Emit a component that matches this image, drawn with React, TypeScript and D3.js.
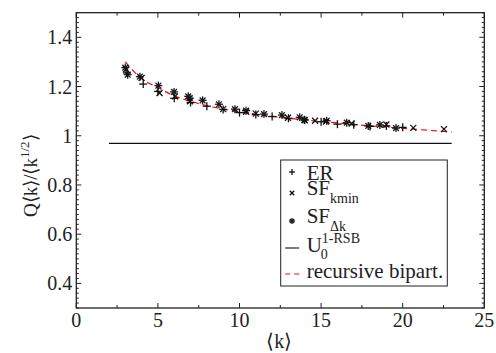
import * as d3 from "d3";

// ER (+)
const erData: [number, number][] = [
  [3.1, 1.255], [4.1, 1.21], [5.0, 1.18], [6.0, 1.152], [7.0, 1.135], [8.0, 1.12],
  [9.0, 1.107], [10.0, 1.094], [11.0, 1.086], [12.0, 1.078], [13.0, 1.071], [14.0, 1.064],
  [15.0, 1.057], [16.0, 1.047], [17.0, 1.045], [18.0, 1.038], [19.0, 1.04], [20.0, 1.034],
];

// SF_kmin (x)
const sfKminData: [number, number][] = [
  [3.05, 1.27], [4.0, 1.235], [5.1, 1.174], [6.05, 1.16], [6.97, 1.14], [9.0, 1.108],
  [10.4, 1.097], [11.0, 1.09], [12.97, 1.073], [14.0, 1.063], [14.63, 1.061], [15.3, 1.058],
  [16.87, 1.05], [19.0, 1.046], [20.65, 1.032], [22.53, 1.027],
];

// SF_dk (asterisk)
const sfDkData: [number, number][] = [
  [3.0, 1.277], [3.15, 1.248], [3.9, 1.24], [5.03, 1.204], [5.99, 1.178], [6.86, 1.16],
  [6.95, 1.153], [7.74, 1.144], [8.74, 1.128], [9.72, 1.108], [10.4, 1.102], [11.5, 1.088],
  [12.6, 1.084], [13.69, 1.075], [13.97, 1.065], [15.34, 1.061], [16.57, 1.053], [17.89, 1.04],
  [18.6, 1.044], [19.59, 1.031],
];

// recursive bipartitioning curve
const bipartCurve: [number, number][] = [
  [3, 1.3], [4, 1.232], [5, 1.196], [6, 1.162], [7, 1.14], [8, 1.122], [9, 1.108],
  [10, 1.097], [12, 1.079], [14, 1.064], [16, 1.052], [18, 1.04], [20, 1.03], [23, 1.015],
];

// U0 1-RSB constant
const u0Value = 0.969;
const u0Range: [number, number] = [2, 23];

const xTicks = [0, 5, 10, 15, 20, 25];
const yTicks = [0.4, 0.6, 0.8, 1, 1.2, 1.4];

const width = 496;
const height = 353;
const margin = { top: 12.7, right: 11.7, bottom: 45, left: 76.3 };
const innerW = width - margin.left - margin.right;
const innerH = height - margin.top - margin.bottom;
const font = "Liberation Serif";

const x = d3.scaleLinear().domain([0, 25]).range([0, innerW]);
const y = d3.scaleLinear().domain([0.3, 1.5]).range([innerH, 0]);

function Plus({ cx, cy, s = 4 }: { cx: number; cy: number; s?: number }) {
  return (
    <g stroke="#111" strokeWidth={1.3}>
      <line x1={cx - s} x2={cx + s} y1={cy} y2={cy} />
      <line x1={cx} x2={cx} y1={cy - s} y2={cy + s} />
    </g>
  );
}

function Cross({ cx, cy, s = 3 }: { cx: number; cy: number; s?: number }) {
  return (
    <g stroke="#111" strokeWidth={1.3}>
      <line x1={cx - s} x2={cx + s} y1={cy - s} y2={cy + s} />
      <line x1={cx - s} x2={cx + s} y1={cy + s} y2={cy - s} />
    </g>
  );
}

function Star({ cx, cy, s = 4 }: { cx: number; cy: number; s?: number }) {
  const d = s * 0.72;
  return (
    <g stroke="#1a1a1a" strokeWidth={1.3}>
      <line x1={cx - s} x2={cx + s} y1={cy} y2={cy} />
      <line x1={cx} x2={cx} y1={cy - s} y2={cy + s} />
      <line x1={cx - d} x2={cx + d} y1={cy - d} y2={cy + d} />
      <line x1={cx - d} x2={cx + d} y1={cy + d} y2={cy - d} />
      <circle cx={cx} cy={cy} r={1.6} fill="#1a1a1a" stroke="none" />
    </g>
  );
}

export default function App() {
  const line = d3
    .line<[number, number]>()
    .x((d) => x(d[0]))
    .y((d) => y(d[1]))
    .curve(d3.curveMonotoneX);

  const xMinor = d3.range(0, 25.01, 2.5);
  const yMinor = d3.range(0.3, 1.5001, 0.02);

  const lx = 280.7 - margin.left;
  const ly = 160 - margin.top;

  return (
    <svg
      width={width}
      height={height}
      style={{ position: "absolute", left: 0, top: 0, background: "#fff", fontFamily: font }}
    >
      <g transform={`translate(${margin.left},${margin.top})`}>
        {/* ticks on all four sides, inward */}
        {xMinor.map((t) => {
          const major = Math.abs(t % 5) < 1e-6;
          const len = major ? 5 : 3;
          return (
            <g key={`xt${t}`} stroke="#222" strokeWidth={1}>
              <line x1={x(t)} x2={x(t)} y1={innerH} y2={innerH - len} />
              <line x1={x(t)} x2={x(t)} y1={0} y2={len} />
            </g>
          );
        })}
        {yMinor.map((t) => {
          const major = yTicks.some((v) => Math.abs(v - t) < 1e-6);
          const len = major ? 5 : 2.5;
          return (
            <g key={`yt${t.toFixed(2)}`} stroke="#222" strokeWidth={1}>
              <line x1={0} x2={len} y1={y(t)} y2={y(t)} />
              <line x1={innerW} x2={innerW - len} y1={y(t)} y2={y(t)} />
            </g>
          );
        })}

        {xTicks.map((t) => (
          <text key={`xl${t}`} x={x(t)} y={innerH + 19} textAnchor="middle" fontSize={20} fill="#222">
            {t}
          </text>
        ))}
        {yTicks.map((t) => (
          <text key={`yl${t}`} x={-4} y={y(t) + 7} textAnchor="end" fontSize={20} fill="#222">
            {t}
          </text>
        ))}

        {/* U0 line */}
        <line
          x1={x(u0Range[0])}
          x2={x(u0Range[1])}
          y1={y(u0Value)}
          y2={y(u0Value)}
          stroke="#111"
          strokeWidth={1.2}
        />

        {/* recursive bipartitioning */}
        <path d={line(bipartCurve) ?? ""} fill="none" stroke="#ff0000" strokeWidth={1.2} strokeDasharray="6,4" />

        {sfDkData.map((d, i) => (
          <Star key={`s${i}`} cx={x(d[0])} cy={y(d[1])} />
        ))}
        {erData.map((d, i) => (
          <Plus key={`p${i}`} cx={x(d[0])} cy={y(d[1])} />
        ))}
        {sfKminData.map((d, i) => (
          <Cross key={`c${i}`} cx={x(d[0])} cy={y(d[1])} />
        ))}

        {/* legend */}
        <rect x={lx} y={ly} width={166.6} height={126} fill="#fff" stroke="#222" strokeWidth={1} />
        <g fontSize={21} fill="#222">
          <Plus cx={lx + 11.3} cy={ly + 12} s={3} />
          <text x={lx + 26} y={ly + 20}>ER</text>

          <Cross cx={lx + 11.3} cy={ly + 33} s={2.2} />
          <text x={lx + 26} y={ly + 35}>
            SF<tspan fontSize={14} dy={8}>kmin</tspan>
          </text>

          <Star cx={lx + 11.3} cy={ly + 61} s={3} />
          <text x={lx + 26} y={ly + 63}>
            SF<tspan fontSize={14} dy={8}>Δk</tspan>
          </text>

          <line x1={lx + 4.5} x2={lx + 18.5} y1={ly + 88} y2={ly + 88} stroke="#222" strokeWidth={1.2} />
          <text x={lx + 26} y={ly + 92}>
            U<tspan fontSize={14} dy={-9}>1-RSB</tspan>
            <tspan fontSize={14} x={lx + 40} dy={16}>0</tspan>
          </text>

          <line
            x1={lx + 4.5}
            x2={lx + 18.5}
            y1={ly + 114}
            y2={ly + 114}
            stroke="#ff0000"
            strokeWidth={1.2}
            strokeDasharray="5,4"
          />
          <text x={lx + 26} y={ly + 118}>recursive bipart.</text>
        </g>

        {/* frame */}
        <rect x={0} y={0} width={innerW} height={innerH} fill="none" stroke="#222" strokeWidth={1.3} />

        {/* axis titles */}
        <text x={innerW / 2 - 1} y={innerH + 40} textAnchor="middle" fontSize={20} fill="#222">
          ⟨k⟩
        </text>
        <text
          transform={`translate(${-39},${y(1.0) + 40}) rotate(-90)`}
          textAnchor="middle"
          fontSize={19}
          fill="#222"
        >
          Q⟨k⟩/⟨k<tspan fontSize={13} dy={-8}>1/2</tspan>
          <tspan dy={8}>⟩</tspan>
        </text>
      </g>
    </svg>
  );
}
